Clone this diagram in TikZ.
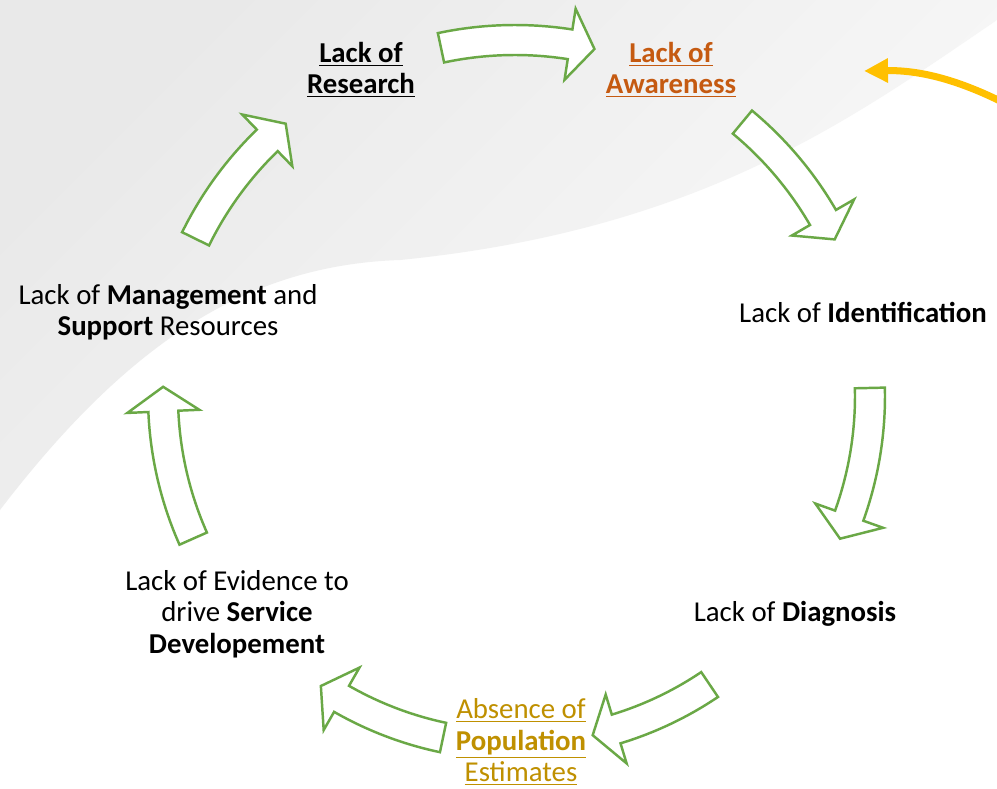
\documentclass[tikz,border=0pt]{standalone}
\usepackage{fontspec}
\setmainfont{Carlito}
\usetikzlibrary{positioning,arrows.meta}
\definecolor{arrowGreen}{RGB}{106,168,70}
\definecolor{awarenessOrange}{RGB}{197,90,17}
\definecolor{populationGold}{RGB}{191,144,0}
\definecolor{pointerYellow}{RGB}{255,192,0}
\definecolor{bgDark}{RGB}{233,233,233}
\definecolor{bgMid}{RGB}{246,246,246}
\definecolor{bgLight}{RGB}{250,250,250}
\tikzstyle{slide} = [x=0.02cm, y=-0.02cm]
\tikzstyle{cycleArrowStyle} = [draw=arrowGreen, fill=white, line width=1.4pt, line join=miter]
\tikzstyle{stageText} = [align=center, font=\fontsize{16.4}{17.9}\selectfont, inner sep=0pt]
\tikzstyle{pointerStyle} = [draw=pointerYellow, line width=4pt, -{Triangle[length=0.48cm,width=0.46cm]}]
\newcommand{\shaftHalf}{15}
\newcommand{\headHalf}{36}
% block arrow on the ring: tail angle, tip angle, radius
\newcommand{\cycleArrow}[3]{
  \pgfmathsetmacro{\neckAngle}{#2 - 4}
  \filldraw [cycleArrowStyle] (#1:#3+\shaftHalf) arc [start angle=#1, end angle=\neckAngle, radius=#3+\shaftHalf]
    -- (\neckAngle:#3+\headHalf) -- (#2:#3) -- (\neckAngle:#3-\headHalf) -- (\neckAngle:#3-\shaftHalf)
    arc [start angle=\neckAngle, end angle=#1, radius=#3-\shaftHalf] -- cycle;
}

\begin{document}
\begin{tikzpicture}[slide]
  \useasboundingbox (0,0) rectangle (997,788);
  \clip (0,0) rectangle (997,788);
  \fill[white] (0,0) rectangle (997,788);
  \shade[top color=bgDark, middle color=bgMid, bottom color=bgLight, shading angle=45]
    (0,0) -- (997,0) -- (997,20) .. controls (850,120) and (700,230) .. (400,260)
    .. controls (250,265) and (130,340) .. (0,510) -- cycle;

  \begin{scope}[shift={(515,396)}]
    \foreach \tailAngle/\tipAngle/\ringRadius in {-102/-77.1/356, -50.3/-26.1/356, -1.3/23.7/355, 56/77.1/348, 101.9/123.8/349, 156.1/181.5/352, 206.2/229.9/356} {
      \cycleArrow{\tailAngle}{\tipAngle}{\ringRadius}
    }
  \end{scope}

  \node[stageText] (research) at (361,70) {\underline{\textbf{Lack of}}\\\underline{\textbf{Research}}};
  \node[stageText, text=awarenessOrange] (awareness) at (671,70) {\underline{\textbf{Lack of}}\\\underline{\textbf{Awareness}}};
  \node[stageText] (identification) at (863,312) {Lack of \textbf{Identification}};
  \node[stageText] (diagnosis) at (795,614) {Lack of \textbf{Diagnosis}};
  \node[stageText, text=populationGold] (population) at (521,742) {\underline{Absence of}\\\underline{\textbf{Population}}\\\underline{Estimates}};
  \node[stageText] (evidence) at (237,614) {Lack of Evidence to\\drive \textbf{Service}\\\textbf{Developement}};
  \node[stageText] (management) at (168,312) {Lack of \textbf{Management} and\\\textbf{Support} Resources};

  \coordinate (pointerStart) at (1010,106);
  \coordinate (pointerTip) at (864,71);
  \draw[pointerStyle] (pointerStart) .. controls (960,80) and (920,70) .. (pointerTip);
\end{tikzpicture}
\end{document}
